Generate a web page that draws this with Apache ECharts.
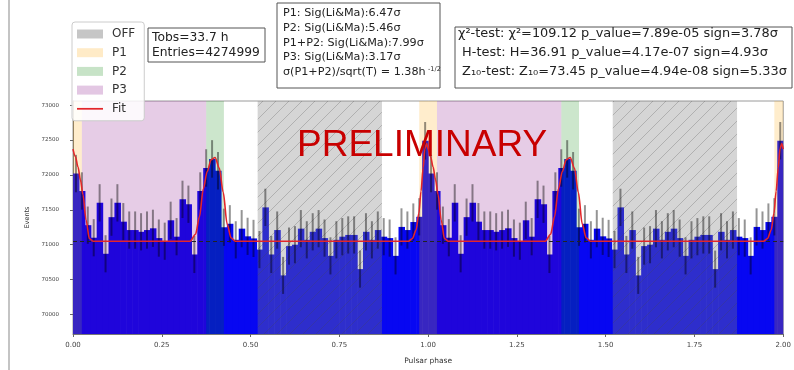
<!DOCTYPE html>
<html>
<head>
<meta charset="utf-8">
<script src="https://cdn.jsdelivr.net/npm/echarts@6/dist/echarts.min.js"></script>
<style>
  html, body { margin: 0; padding: 0; background: #ffffff; }
  #chart { width: 794px; height: 370px; }
</style>
</head>
<body>
<div id="chart"></div>
<script>
// Pulsar phaseogram: 60 bins per rotation, drawn over two rotations (phase 0-2)
const binsPerCycle = 60;
const counts = [
  72020, 71770, 71280, 71100, 71600, 70870, 71395, 71600, 71330, 71210,
  71210, 71185, 71210, 71235, 71095, 71050, 71350, 71115, 71650, 71580,
  70860, 71770, 72100, 72230, 72060, 71250, 71300, 71070, 71230, 71120,
  71090, 70930, 71535, 70860, 71210, 70560, 70980, 71000, 71230, 71070,
  71185, 71230, 71095, 70840, 71070, 71115, 71140, 71140, 70650, 71185,
  71070, 71210, 71115, 71095, 70840, 71255, 71210, 71325, 71400, 72490
];

// Fitted light curve over one rotation (phase, events)
const fitPhase = [
  0.000, 0.007, 0.014, 0.021, 0.028, 0.037, 0.046, 0.056,
  0.330, 0.345, 0.356, 0.367, 0.378, 0.389, 0.400, 0.412, 0.423, 0.434, 0.445, 0.457,
  0.945, 0.956, 0.966, 0.974, 0.980, 0.986, 0.991, 0.996, 1.000
];
const fitCounts = [
  72370, 72260, 72115, 71930, 71720, 71350, 71090, 71050,
  71050, 71150, 71400, 71800, 72050, 72220, 72250, 72100, 71750, 71300, 71100, 71050,
  71050, 71090, 71209, 71450, 71767, 72100, 72380, 72450, 72370
];
const offLevel = 71050;

// Phase intervals of the OFF, P1, P2 and P3 regions
const offSpans = [[0.52, 0.87], [1.52, 1.87]];
const p1Spans = [[0.0, 0.025], [0.975, 1.025], [1.975, 2.0]];
const p2Spans = [[0.375, 0.425], [1.375, 1.425]];
const p3Spans = [[0.025, 0.375], [1.025, 1.375]];

const xTickStep = 0.25;
const yTicks = [70000, 70500, 71000, 71500, 72000, 72500, 73000];
const Y_MIN = 69720, Y_MAX = 73060;

const infoLines = ['Tobs=33.7 h', 'Entries=4274999'];
const sigLines = [
  'P1: Sig(Li&Ma):6.47σ',
  'P2: Sig(Li&Ma):5.46σ',
  'P1+P2: Sig(Li&Ma):7.99σ',
  'P3: Sig(Li&Ma):3.17σ',
  'σ(P1+P2)/sqrt(T) = 1.38h'
];
const sigSup = '-1/2';
const testLines = [
  'χ²-test: χ²=109.12 p_value=7.89e-05 sign=3.78σ',
  ' H-test: H=36.91 p_value=4.17e-07 sign=4.93σ',
  ' Z₁₀-test: Z₁₀=73.45 p_value=4.94e-08 sign=5.33σ'
];

const FONT = 'DejaVu Sans';
const BAR_COLOR = '#0707f2';

// histogram bins for both rotations
const barData = [];
const errData = [];
for (let k = 0; k < 2 * binsPerCycle; k++) {
  const v = counts[k % binsPerCycle];
  const lo = k / binsPerCycle, hi = (k + 1) / binsPerCycle;
  barData.push([lo, hi, v]);
  errData.push([(lo + hi) / 2, v, Math.sqrt(v)]);
}

const fitData = [];
fitPhase.forEach((p, i) => fitData.push([p, fitCounts[i]]));
fitPhase.forEach((p, i) => { if (i > 0) fitData.push([p + 1, fitCounts[i]]); });

// diagonal hatch for the OFF region
function hatchPattern() {
  const s = 13;
  const c = document.createElement('canvas');
  c.width = s; c.height = s;
  const g = c.getContext('2d');
  g.fillStyle = 'rgba(128,128,128,0.33)';
  g.fillRect(0, 0, s, s);
  g.strokeStyle = 'rgba(70,70,70,0.26)';
  g.lineWidth = 1;
  g.beginPath();
  g.moveTo(0, s); g.lineTo(s, 0);
  g.moveTo(-2, 2); g.lineTo(2, -2);
  g.moveTo(s - 2, s + 2); g.lineTo(s + 2, s - 2);
  g.stroke();
  return { image: c, repeat: 'repeat' };
}

function clipRect(params, r) {
  return echarts.graphic.clipRectByRect(r, params.coordSys);
}

function renderBar(params, api) {
  const a = api.coord([api.value(0), api.value(2)]);
  const b = api.coord([api.value(1), Y_MIN]);
  const r = clipRect(params, { x: a[0], y: a[1], width: b[0] - a[0] + 0.6, height: b[1] - a[1] });
  return r && { type: 'rect', shape: r, style: { fill: BAR_COLOR } };
}

function spanRenderer(fill) {
  return function (params, api) {
    const a = api.coord([api.value(0), Y_MAX]);
    const b = api.coord([api.value(1), Y_MIN]);
    const r = clipRect(params, { x: a[0], y: a[1], width: b[0] - a[0], height: b[1] - a[1] });
    return r && { type: 'rect', shape: r, style: { fill: fill } };
  };
}

function renderErr(params, api) {
  const x = api.value(0), v = api.value(1), e = api.value(2);
  const t = api.coord([x, v + e]);
  const b = api.coord([x, v - e]);
  return {
    type: 'line',
    shape: { x1: t[0], y1: t[1], x2: b[0], y2: b[1] },
    style: { stroke: 'rgba(0,0,0,0.42)', lineWidth: 2 }
  };
}

function spanSeries(name, spans, legendColor, fill) {
  return {
    name: name,
    type: 'custom',
    data: spans,
    renderItem: spanRenderer(fill),
    encode: { x: [0, 1] },
    itemStyle: { color: legendColor },
    z: 3,
    silent: true
  };
}

// text boxes
const graphics = [];
graphics.push({ type: 'line', shape: { x1: 9, y1: 0, x2: 9, y2: 370 }, style: { stroke: '#c4c4c4', lineWidth: 2 }, z: 1 });

graphics.push({ type: 'rect', shape: { x: 148, y: 28, width: 117, height: 34 }, style: { fill: '#ffffff', stroke: '#555', lineWidth: 1 }, z: 20 });
infoLines.forEach((t, i) => graphics.push({
  type: 'text', x: 152, y: 38 + i * 15, z: 21,
  style: { text: t, font: '12.3px "' + FONT + '"', fill: '#222', textVerticalAlign: 'middle' }
}));

graphics.push({ type: 'rect', shape: { x: 277, y: 3, width: 163, height: 85 }, style: { fill: '#ffffff', stroke: '#555', lineWidth: 1 }, z: 20 });
sigLines.forEach((t, i) => graphics.push({
  type: 'text', x: 283, y: 13 + i * 14.8, z: 21,
  style: { text: t, font: '11.2px "' + FONT + '"', fill: '#222', textVerticalAlign: 'middle' }
}));
graphics.push({
  type: 'text', x: 428, y: 69, z: 21,
  style: { text: sigSup, font: '6.5px "' + FONT + '"', fill: '#222', textVerticalAlign: 'middle' }
});

graphics.push({ type: 'rect', shape: { x: 455, y: 27, width: 337, height: 61 }, style: { fill: '#ffffff', stroke: '#555', lineWidth: 1 }, z: 20 });
testLines.forEach((t, i) => graphics.push({
  type: 'text', x: 458, y: 34 + i * 19, z: 21,
  style: { text: t, font: '12.9px "' + FONT + '"', fill: '#222', textVerticalAlign: 'middle' }
}));

graphics.push({
  type: 'text', x: 297, y: 146, z: 30,
  style: { text: 'PRELIMINARY', font: '37px "Liberation Sans"', fill: '#c80000', textVerticalAlign: 'middle' }
});

const chart = echarts.init(document.getElementById('chart'), null, { renderer: 'canvas' });
chart.setOption({
  animation: false,
  backgroundColor: '#ffffff',
  grid: { left: 73, right: 7, top: 101, bottom: 30, show: true, borderColor: '#9a9a9a', borderWidth: 1, backgroundColor: 'transparent' },
  legend: {
    orient: 'vertical',
    left: 72, top: 22,
    padding: [5, 9, 5, 5],
    itemGap: 4.7,
    itemWidth: 26, itemHeight: 9,
    backgroundColor: 'rgba(255,255,255,0.85)',
    borderColor: '#cccccc', borderWidth: 1, borderRadius: 3,
    textStyle: { fontFamily: FONT, fontSize: 12, color: '#333', lineHeight: 14, padding: [0, 0, 0, 4] },
    data: [
      { name: 'OFF', icon: 'rect' },
      { name: 'P1', icon: 'rect' },
      { name: 'P2', icon: 'rect' },
      { name: 'P3', icon: 'rect' },
      { name: 'Fit', icon: 'path://M0,0L30,0L30,2L0,2Z' }
    ],
    selectedMode: false,
    z: 10
  },
  xAxis: {
    type: 'value', min: 0, max: 2, interval: xTickStep,
    name: 'Pulsar phase', nameLocation: 'middle', nameGap: 23,
    nameTextStyle: { fontFamily: FONT, fontSize: 7.5, color: '#333' },
    axisLine: { show: true, lineStyle: { color: '#777', width: 1 } },
    axisTick: { show: true, length: 3, lineStyle: { color: '#666' } },
    axisLabel: { fontFamily: FONT, fontSize: 7, color: '#444', margin: 8, formatter: v => v.toFixed(2) },
    splitLine: { show: false }
  },
  yAxis: {
    type: 'value', min: Y_MIN, max: Y_MAX,
    name: 'Events', nameLocation: 'middle', nameGap: 39, nameRotate: 90,
    nameTextStyle: { fontFamily: FONT, fontSize: 6.5, color: '#333' },
    axisLine: { show: true, lineStyle: { color: '#777', width: 1 } },
    axisTick: { show: true, length: 3, customValues: yTicks, lineStyle: { color: '#666' } },
    axisLabel: { fontFamily: FONT, fontSize: 5.5, color: '#444', margin: 14, customValues: yTicks, formatter: v => String(v) },
    splitLine: { show: false }
  },
  graphic: graphics,
  series: [
    {
      name: 'hist', type: 'custom', data: barData, renderItem: renderBar,
      encode: { x: [0, 1], y: 2 }, z: 2, silent: true
    },
    spanSeries('OFF', offSpans, 'rgba(128,128,128,0.45)', hatchPattern()),
    spanSeries('P1', p1Spans, 'rgba(255,165,0,0.22)', 'rgba(255,165,0,0.2)'),
    spanSeries('P2', p2Spans, 'rgba(0,128,0,0.22)', 'rgba(0,128,0,0.2)'),
    spanSeries('P3', p3Spans, 'rgba(128,0,128,0.22)', 'rgba(128,0,128,0.2)'),
    {
      name: 'errors', type: 'custom', data: errData, renderItem: renderErr,
      encode: { x: 0, y: 1 }, z: 4, silent: true, clip: true
    },
    {
      name: 'Fit', type: 'line', data: fitData, symbol: 'none',
      smooth: 0.3, smoothMonotone: 'x',
      lineStyle: { color: '#e3262a', width: 1.6 },
      itemStyle: { color: '#e3262a' },
      z: 5, silent: true,
      markLine: {
        silent: true, symbol: 'none', label: { show: false },
        lineStyle: { color: '#222', type: [4, 3], width: 1 },
        data: [{ yAxis: offLevel }]
      }
    }
  ]
});
</script>
</body>
</html>
